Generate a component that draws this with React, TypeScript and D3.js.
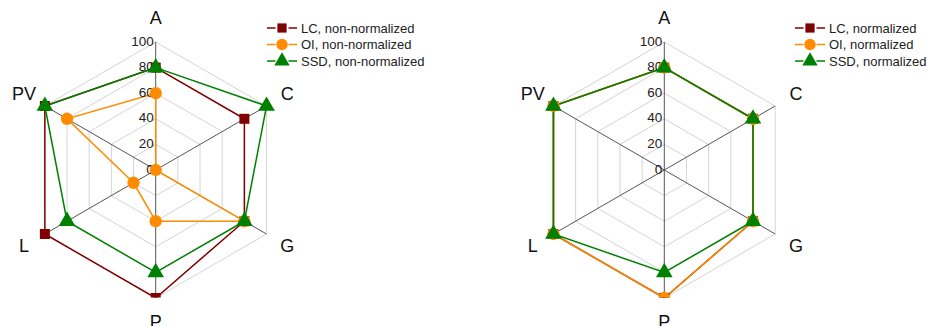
import React from 'react';
import * as d3 from 'd3';

// axes, clockwise from top
const axes = ['A', 'C', 'G', 'P', 'L', 'PV'];
const ticks = [0, 20, 40, 60, 80, 100];

// left chart, non-normalized
const lcRaw = [80, 80, 80, 100, 100, 100];
const oiRaw = [60, 0, 80, 40, 20, 80];
const ssdRaw = [80, 100, 80, 80, 80, 100];

// right chart, normalized
const lcNorm = [80, 80, 80, 100, 100, 100];
const oiNorm = [80, 80, 80, 100, 100, 100];
const ssdNorm = [80, 80, 80, 80, 100, 100];

const seriesNames = ['LC', 'OI', 'SSD'];
const colors = ['#800000', '#ff8c00', '#008000'];
const shapes = [d3.symbolSquare, d3.symbolCircle, d3.symbolTriangle];
const shapeSizes = [100, 120, 120];

const W = 928, H = 326;
const R = 128;

const r = d3.scaleLinear().domain([0, 100]).range([0, R]);
const angle = d3.scalePoint<string>().domain(axes.concat('_')).range([0, 2 * Math.PI]);

const pt = (a: string, v: number): [number, number] => {
  const t = angle(a) as number;
  return [r(v) * Math.sin(t), -r(v) * Math.cos(t)];
};

function Radar({ cx, cy, data, suffix, legendX, id }: any) {
  const line = d3.line<[number, number]>().curve(d3.curveLinearClosed);
  return (
    <g>
      <clipPath id={id}>
        <rect x={-cx} y={-cy} width={W} height={cy + R - 0.5} />
      </clipPath>
      <g transform={`translate(${cx},${cy})`}>
        <g clipPath={`url(#${id})`}>
          {ticks.slice(1).map(t => (
            <path key={t} d={line(axes.map(a => pt(a, t))) || ''} fill="none" stroke="#d4d4d4" strokeWidth={1} />
          ))}
          {axes.map(a => {
            const [x, y] = pt(a, 100);
            return <line key={a} x1={0} y1={0} x2={x} y2={y} stroke="#555" strokeWidth={1} />;
          })}
          {data.map((vals: number[], i: number) => (
            <path key={i} d={line(axes.map((a, j) => pt(a, vals[j]))) || ''} fill="none" stroke={colors[i]} strokeWidth={1.5} />
          ))}
        </g>
        {ticks.map(t => (
          <text key={t} x={-2} y={-r(t)} textAnchor="end" dominantBaseline="middle" fontSize={13.5} fill="#222">{t}</text>
        ))}
        <g clipPath={`url(#${id})`}>
          {data.map((vals: number[], i: number) => (
            <g key={i}>
              {axes.map((a, j) => {
                const [x, y] = pt(a, vals[j]);
                return (
                  <path key={a} transform={`translate(${x},${y})`}
                    d={d3.symbol().type(shapes[i]).size(shapeSizes[i])() || ''}
                    fill={colors[i]} />
                );
              })}
            </g>
          ))}
        </g>
        {axes.map(a => {
          const t = angle(a) as number;
          const rr = R + 24;
          return (
            <text key={a} x={rr * Math.sin(t)} y={-rr * Math.cos(t)} textAnchor="middle" dominantBaseline="central" fontSize={18} fill="#111">{a}</text>
          );
        })}
      </g>
      <g transform={`translate(${legendX},28)`}>
        {seriesNames.map((s, i) => (
          <g key={s} transform={`translate(0,${i * 16.5})`}>
            <line x1={0} x2={8.5} y1={0} y2={0} stroke={colors[i]} strokeWidth={1.5} />
            <line x1={21.5} x2={30} y1={0} y2={0} stroke={colors[i]} strokeWidth={1.5} />
            <path transform="translate(15,0)" d={d3.symbol().type(shapes[i]).size(shapeSizes[i] * 0.85)() || ''} fill={colors[i]} />
            <text x={34} y={0} dominantBaseline="central" fontSize={13} fill="#222">{`${s}, ${suffix}`}</text>
          </g>
        ))}
      </g>
    </g>
  );
}

export default function App() {
  return (
    <svg width={W} height={H} style={{ position: 'absolute', left: 0, top: 0, background: '#fff' }}
      fontFamily="'Liberation Sans', Arial, sans-serif">
      <Radar id="clipL" cx={155.7} cy={170} data={[lcRaw, oiRaw, ssdRaw]} suffix="non-normalized" legendX={267} />
      <Radar id="clipR" cx={664.3} cy={170} data={[lcNorm, oiNorm, ssdNorm]} suffix="normalized" legendX={795} />
    </svg>
  );
}
